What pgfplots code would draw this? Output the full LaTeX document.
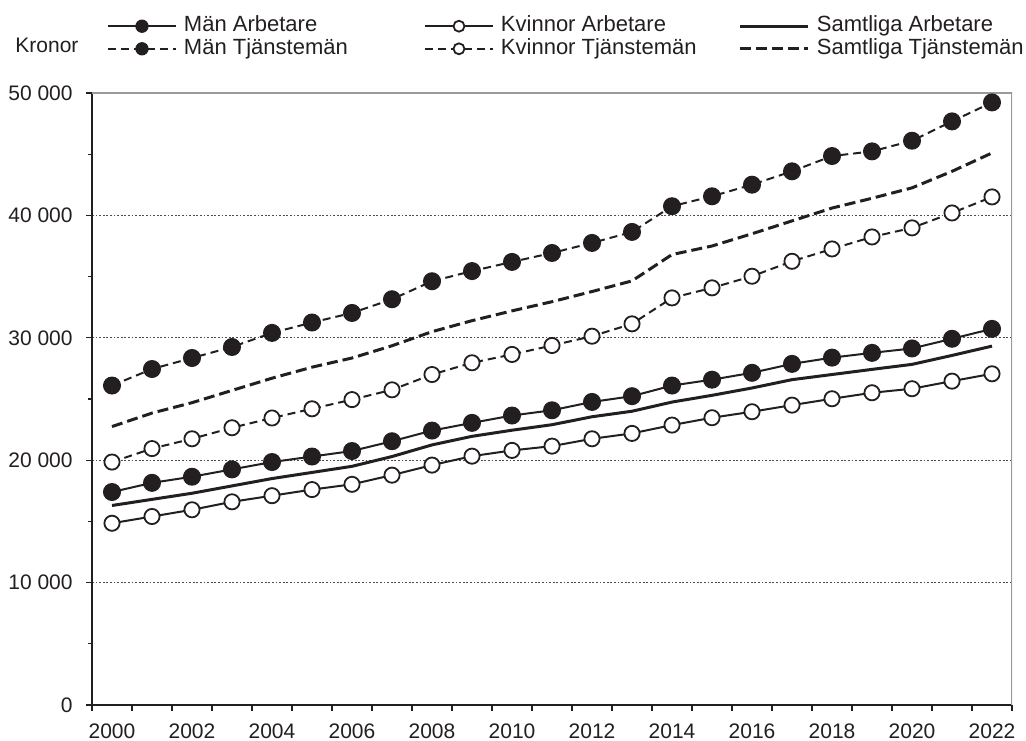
\documentclass[border=0pt]{standalone}
\usepackage{fontspec}
\setmainfont{Liberation Sans}
\usepackage{pgfplots}
\usepackage{pgfplotstable}
\pgfplotsset{compat=1.18}
\definecolor{ink}{HTML}{231F20}
\definecolor{framegray}{HTML}{9A9A9A}

\pgfplotstableread{
Year MA KA SA MT KT ST
2000 17400 14850 16300 26100 19850 22750
2001 18150 15400 16800 27450 20950 23850
2002 18650 15950 17300 28350 21750 24700
2003 19250 16600 17900 29250 22650 25700
2004 19850 17100 18500 30400 23450 26700
2005 20300 17600 19000 31250 24200 27600
2006 20750 18030 19500 32030 24950 28350
2007 21550 18780 20300 33150 25750 29350
2008 22420 19600 21250 34620 27000 30500
2009 23050 20330 21950 35450 27960 31400
2010 23650 20800 22450 36200 28640 32200
2011 24080 21150 22900 36930 29370 32950
2012 24760 21750 23550 37750 30130 33780
2013 25230 22190 24000 38650 31140 34650
2014 26100 22870 24750 40750 33260 36800
2015 26580 23470 25300 41560 34080 37500
2016 27140 23960 25900 42510 35030 38500
2017 27870 24500 26580 43600 36250 39550
2018 28380 25020 27000 44850 37260 40600
2019 28770 25510 27420 45230 38240 41400
2020 29130 25840 27830 46100 38980 42250
2021 29920 26460 28560 47680 40200 43600
2022 30730 27060 29320 49230 41510 45100
}\datatable

\begin{document}
\fontsize{10.5}{12.6}\selectfont
\begin{tikzpicture}
\useasboundingbox (-46pt,-17.5pt) rectangle (467pt,352.5pt);
\begin{axis}[
  at={(0pt,0pt)}, anchor=south west,
  width=460pt, height=306pt, scale only axis,
  xmin=1999.5, xmax=2022.5, ymin=0, ymax=50000,
  scaled y ticks=false,
  axis x line*=bottom, axis y line*=left,
  axis line style={ink, line width=0.6pt},
  tick align=outside,
  xtick={2000,2002,2004,2006,2008,2010,2012,2014,2016,2018,2020,2022},
  xticklabels={2000,2002,2004,2006,2008,2010,2012,2014,2016,2018,2020,2022},
  major x tick style={draw=none},
  minor xtick={1999.5,2000.5,2001.5,2002.5,2003.5,2004.5,2005.5,2006.5,2007.5,2008.5,2009.5,2010.5,2011.5,2012.5,2013.5,2014.5,2015.5,2016.5,2017.5,2018.5,2019.5,2020.5,2021.5,2022.5},
  minor tick length=3pt,
  major tick length=3pt,
  ytick={0,10000,20000,30000,40000,50000},
  yticklabels={0,10 000,20 000,30 000,40 000,50 000},
  extra y ticks={5000,15000,25000,35000,45000},
  extra y tick labels={},
  extra y tick style={major tick length=2pt, grid=none},
  tick style={ink, line width=0.6pt},
  ymajorgrids,
  major grid style={ink!80, line width=0.45pt, dash pattern=on 0.9pt off 0.9pt},
  ticklabel style={font=\fontsize{10.5}{12.6}\selectfont, text=ink},
  yticklabel style={xshift=-3pt},
  xticklabel style={yshift=-2.5pt},
  legend columns=3,
  legend style={at={(axis description cs:0.0163,1.1263)}, anchor=north west,
    draw=none, fill=none, inner sep=0pt, outer sep=0pt, row sep=0.8pt, column sep=0pt,
    font=\fontsize{11}{13}\selectfont, text=ink,
    nodes={inner sep=0pt, text height=8pt, text depth=2.5pt, anchor=west}},
  legend cell align=left,
  legend image code/.code={\draw[mark repeat=2, mark phase=2, #1, /tikz/every mark/.append style={scale=0.72}] plot coordinates {(0pt,0pt) (17pt,0pt) (34pt,0pt)};},
]
\addplot[ink, line width=1pt, mark=*, mark size=4.2pt, mark options={solid, fill=ink, draw=ink, line width=0.6pt}] table[x=Year, y=MA] {\datatable};
\addlegendentry{\hspace{3.5pt}\makebox[120pt][l]{Män Arbetare}}
\addplot[ink, line width=1pt, mark=*, mark size=3.8pt, mark options={solid, fill=white, draw=ink, line width=0.9pt}] table[x=Year, y=KA] {\datatable};
\addlegendentry{\hspace{3.5pt}\makebox[119pt][l]{Kvinnor Arbetare}}
\addplot[ink, line width=1.5pt, no marks] table[x=Year, y=SA] {\datatable};
\addlegendentry{\hspace{3.5pt}Samtliga Arbetare}
\addplot[ink, line width=1pt, dash pattern=on 4pt off 2.5pt, mark=*, mark size=4.2pt, mark options={solid, fill=ink, draw=ink, line width=0.6pt}] table[x=Year, y=MT] {\datatable};
\addlegendentry{\hspace{3.5pt}\makebox[120pt][l]{Män Tjänstemän}}
\addplot[ink, line width=1pt, dash pattern=on 4pt off 2.5pt, mark=*, mark size=3.8pt, mark options={solid, fill=white, draw=ink, line width=0.9pt}] table[x=Year, y=KT] {\datatable};
\addlegendentry{\hspace{3.5pt}\makebox[119pt][l]{Kvinnor Tjänstemän}}
\addplot[ink, line width=1.5pt, dash pattern=on 5.5pt off 2.5pt, no marks] table[x=Year, y=ST] {\datatable};
\addlegendentry{\hspace{3.5pt}Samtliga Tjänstemän}
\draw[framegray, line width=1.2pt] (rel axis cs:0,1) -- (rel axis cs:1,1) -- (rel axis cs:1,0);
\end{axis}
\node[anchor=base west, text=ink, inner sep=0pt, font=\fontsize{10.5}{12.6}\selectfont] at (-38.5pt,326.15pt) {Kronor};
\end{tikzpicture}
\end{document}
